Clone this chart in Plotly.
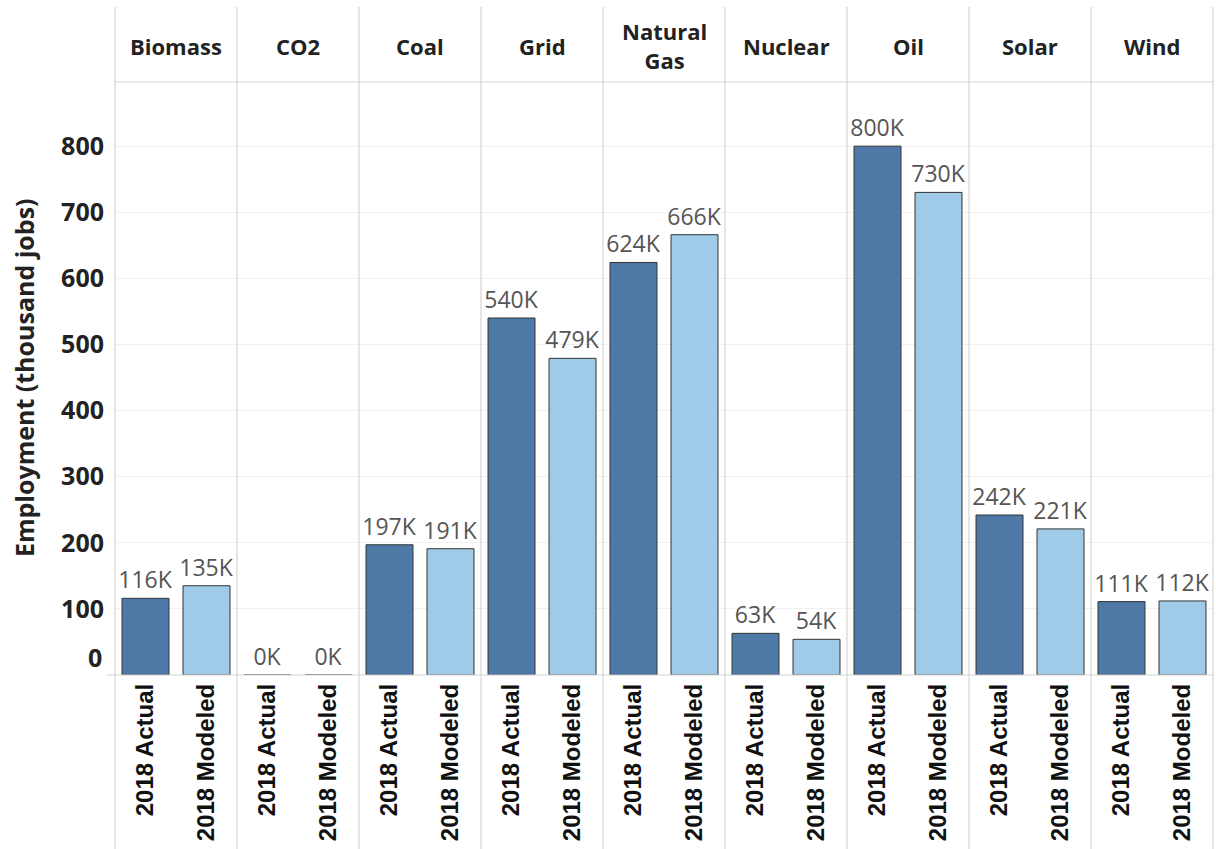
import plotly.graph_objects as go

categories = ["Biomass", "CO2", "Coal", "Grid", "Natural Gas", "Nuclear", "Oil", "Solar", "Wind"]
header_labels = ["Biomass", "CO2", "Coal", "Grid", "Natural<br>Gas", "Nuclear", "Oil", "Solar", "Wind"]
series_names = ["2018 Actual", "2018 Modeled"]
actual = [116, 0, 197, 540, 624, 63, 800, 242, 111]
modeled = [135, 0, 191, 479, 666, 54, 730, 221, 112]
y_ticks = [0, 100, 200, 300, 400, 500, 600, 700, 800]

W, H = 1216, 849
ML, MR, MT, MB = 115, 3, 82, 174
plot_w = W - ML - MR
plot_h = H - MT - MB
n = len(categories)
X_RANGE = [0, 2 * n]
Y_RANGE = [0, 897]

FONT = "Open Sans"
XFONT = "Liberation Sans"
colors = ["#4e79a7", "#a0cbe8"]

fig = go.Figure()
for s, (name, vals) in enumerate(zip(series_names, [actual, modeled])):
    xs = [2 * i + 0.5 + s for i in range(n)]
    fig.add_trace(go.Bar(
        x=xs, y=vals, name=name, width=0.77,
        marker=dict(color=colors[s], line=dict(color="#333333", width=1)),
        text=[f"{v}K" for v in vals], textposition="outside",
        constraintext="none", cliponaxis=False,
        textfont=dict(family=FONT, size=23, color="#555555"),
        showlegend=False,
    ))

tickvals, ticktext = [], []
for i in range(n):
    for s in range(2):
        tickvals.append(2 * i + 0.5 + s)
        ticktext.append(series_names[s])

def xpaper(v):
    return (v - X_RANGE[0]) / (X_RANGE[1] - X_RANGE[0])

y_bottom = -(MB) / plot_h
y_top = 1 + (MT - 7) / plot_h

shapes = []
for i in range(n + 1):
    xp = xpaper(2 * i)
    shapes.append(dict(type="line", xref="paper", yref="paper", x0=xp, x1=xp,
                       y0=y_bottom, y1=y_top, line=dict(color="#d4d4d4", width=1.2)))
shapes.append(dict(type="line", xref="paper", yref="paper", x0=0, x1=1, y0=1, y1=1,
                   line=dict(color="#d4d4d4", width=1.2)))
shapes.append(dict(type="line", xref="paper", yref="paper", x0=-8 / plot_w, x1=1, y0=0, y1=0,
                   line=dict(color="#d4d4d4", width=1.2)))

annotations = []
header_mid = 1 + (MT - 46) / plot_h
for i, lab in enumerate(header_labels):
    annotations.append(dict(
        x=xpaper(2 * i + 1), y=header_mid, xref="paper", yref="paper",
        text=f"<b>{lab}</b>", showarrow=False, xanchor="center", yanchor="middle",
        font=dict(family=FONT, size=22, color="#222222"),
    ))
annotations.append(dict(
    x=-(ML - 24) / plot_w, y=(675 - 378) / plot_h, xref="paper", yref="paper",
    text="<b>Employment (thousand jobs)</b>", textangle=-90, showarrow=False,
    xanchor="center", yanchor="middle",
    font=dict(family=FONT, size=25, color="#222222"),
))
# the zero tick label sits just above the baseline
annotations.append(dict(
    x=-(ML - 104) / plot_w, y=y_ticks[0], xref="paper", yref="y",
    text=f"<b>{y_ticks[0]}</b>", showarrow=False, xanchor="right", yanchor="middle",
    yshift=18, font=dict(family=FONT, size=25, color="#222222"),
))

fig.update_layout(
    width=W, height=H,
    margin=dict(l=ML, r=MR, t=MT, b=MB, autoexpand=False),
    paper_bgcolor="white", plot_bgcolor="white",
    barmode="overlay",
    shapes=shapes, annotations=annotations,
    xaxis=dict(range=X_RANGE, tickmode="array", tickvals=tickvals, ticktext=ticktext,
               tickangle=-90, showgrid=False, zeroline=False, showline=False,
               ticks="", ticklabelstandoff=3,
               tickfont=dict(family=XFONT, size=24, color="#111111", weight="bold"),
               fixedrange=True),
    yaxis=dict(range=Y_RANGE, tickmode="array", tickvals=y_ticks[1:],
               showgrid=True, gridcolor="#f0f0f0", gridwidth=1,
               zeroline=False, showline=False, ticks="", ticklabelstandoff=10,
               tickfont=dict(family=FONT, size=25, color="#222222", weight="bold"),
               fixedrange=True),
)

fig.write_html("out.html")
